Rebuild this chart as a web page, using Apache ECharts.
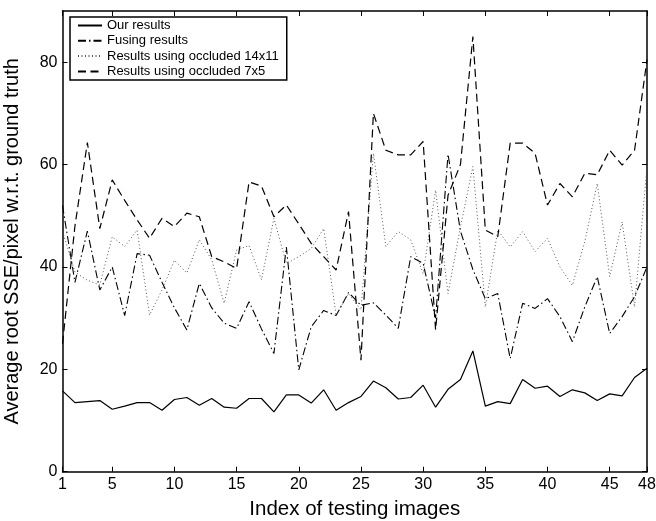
<!DOCTYPE html>
<html>
<head>
<meta charset="utf-8">
<script src="https://cdn.jsdelivr.net/npm/echarts@6/dist/echarts.min.js"></script>
<style>html,body{margin:0;padding:0;background:#fff}#c{width:656px;height:521px}</style>
</head>
<body>
<div id="c"></div>
<script>
// x positions are image indices 1..48
var xTicks = [1, 5, 10, 15, 20, 25, 30, 35, 40, 45, 48];
var yTicks = [0, 20, 40, 60, 80];
var seriesNames = ['Our results', 'Fusing results', 'Results using occluded 14x11', 'Results using occluded 7x5'];
var ourResults = [15.8, 13.5, 13.7, 13.9, 12.2, 12.8, 13.5, 13.5, 12.0, 14.1,
  14.5, 13.0, 14.3, 12.6, 12.4, 14.3, 14.3, 11.7, 15.0, 15.0,
  13.4, 16.0, 12.0, 13.5, 14.7, 17.7, 16.4, 14.2, 14.5, 16.9,
  12.6, 16.1, 18.0, 23.6, 12.8, 13.7, 13.3, 18.0, 16.3, 16.7,
  14.7, 16.0, 15.4, 13.9, 15.2, 14.8, 18.4, 20.2];
var fusingResults = [52, 37, 47, 35.5, 40, 30.5, 42.6, 42.3, 37, 32,
  27.7, 36.8, 32, 29, 28, 33.2, 27.9, 23.1, 43.9, 19.9,
  28.3, 31.5, 30.5, 35, 32.5, 33, 30.6, 28, 42, 40.7,
  30, 62, 47, 39.5, 33.8, 34.8, 22.1, 32.9, 31.9, 33.8,
  30.3, 25.4, 32.2, 38.1, 27.0, 30.3, 34.2, 40.0];
var occluded14x11 = [47, 39, 37.4, 36.5, 45.9, 44.0, 47.2, 30.6, 35.5, 41.3,
  38.8, 45.3, 41.4, 32.9, 43.3, 44.2, 37.5, 49.5, 40.7, 42.0,
  43.6, 47.5, 30.6, 34.8, 31.6, 62.2, 44, 46.9, 45.3, 38.7,
  55, 34.8, 47.8, 59.6, 32.2, 47.2, 43.9, 46.9, 43.0, 45.6,
  40.0, 36.4, 45, 56.3, 38.1, 48.8, 32.2, 59.6];
var occluded7x5 = [25, 48, 64.3, 47.5, 57, 53, 49.2, 45.6, 49.5, 47.9,
  50.5, 49.8, 42.0, 41.0, 39.7, 56.6, 55.8, 49.8, 52.1, 48.4,
  44.6, 42, 39.4, 50.8, 21.8, 70.0, 62.8, 61.9, 61.9, 64.5,
  27.7, 54, 60, 85, 47.2, 45.9, 64.2, 64.2, 62.2, 52.1,
  56.3, 53.7, 58.3, 58, 62.8, 59.9, 62.8, 80.5];

function pts(arr) { return arr.map(function (v, i) { return [i + 1, v]; }); }

var FONT = '"Liberation Sans", Arial, Helvetica, sans-serif';
var chart = echarts.init(document.getElementById('c'), null, { renderer: 'canvas' });

var axisLine = { show: true, onZero: false, lineStyle: { color: '#000', width: 1.5 } };
var tick = { show: true, inside: true, length: 5, lineStyle: { color: '#000', width: 1 } };

var option = {
  animation: false,
  backgroundColor: '#fff',
  grid: { left: 62.5, right: 9, top: 11, bottom: 49.3, containLabel: false, outerBoundsMode: 'none' },
  legend: {
    orient: 'vertical', left: 70, top: 17,
    data: seriesNames,
    backgroundColor: '#fff',
    borderColor: '#000', borderWidth: 1.5,
    padding: [2, 8, 2, 7],
    itemWidth: 24, itemHeight: 12, itemGap: 2.3, itemTextGap: 5,
    itemStyle: { opacity: 0 },
    textStyle: { fontFamily: FONT, fontSize: 13, color: '#000', lineHeight: 13 }
  },
  xAxis: [{
    type: 'value', min: 1, max: 48, position: 'bottom',
    name: 'Index of testing images', nameLocation: 'middle', nameGap: 27,
    nameTextStyle: { fontFamily: FONT, fontSize: 20.5, color: '#000' },
    axisLine: axisLine,
    axisTick: Object.assign({}, tick, { customValues: xTicks }),
    axisLabel: { customValues: xTicks, fontFamily: FONT, fontSize: 16, color: '#000', margin: 5 },
    splitLine: { show: false }
  }, {
    type: 'value', min: 1, max: 48, position: 'top',
    axisLine: axisLine,
    axisTick: Object.assign({}, tick, { customValues: xTicks }),
    axisLabel: { show: false },
    splitLine: { show: false }
  }],
  yAxis: [{
    type: 'value', min: 0, max: 90, position: 'left',
    name: 'Average root SSE/pixel w.r.t. ground truth', nameLocation: 'middle', nameGap: 40,
    nameTextStyle: { fontFamily: FONT, fontSize: 20, color: '#000' },
    axisLine: axisLine,
    axisTick: Object.assign({}, tick, { customValues: yTicks }),
    axisLabel: { customValues: yTicks, fontFamily: FONT, fontSize: 16, color: '#000', margin: 5 },
    splitLine: { show: false }
  }, {
    type: 'value', min: 0, max: 90, position: 'right',
    axisLine: axisLine,
    axisTick: Object.assign({}, tick, { customValues: yTicks }),
    axisLabel: { show: false },
    splitLine: { show: false }
  }],
  series: [
    { name: seriesNames[0], type: 'line', data: pts(ourResults), symbol: 'none', showSymbol: false,
      lineStyle: { color: '#000', width: 1.2, type: 'solid' }, itemStyle: { color: '#000' } },
    { name: seriesNames[1], type: 'line', data: pts(fusingResults), symbol: 'none', showSymbol: false,
      lineStyle: { color: '#000', width: 1.1, type: [8, 3, 1.5, 3] }, itemStyle: { color: '#000' } },
    { name: seriesNames[2], type: 'line', data: pts(occluded14x11), symbol: 'none', showSymbol: false,
      lineStyle: { color: '#555', width: 1, type: [1, 2.5] }, itemStyle: { color: '#555' } },
    { name: seriesNames[3], type: 'line', data: pts(occluded7x5), symbol: 'none', showSymbol: false,
      lineStyle: { color: '#000', width: 1.2, type: [8, 4.5] }, itemStyle: { color: '#000' } }
  ]
};
chart.setOption(option);
</script>
</body>
</html>
